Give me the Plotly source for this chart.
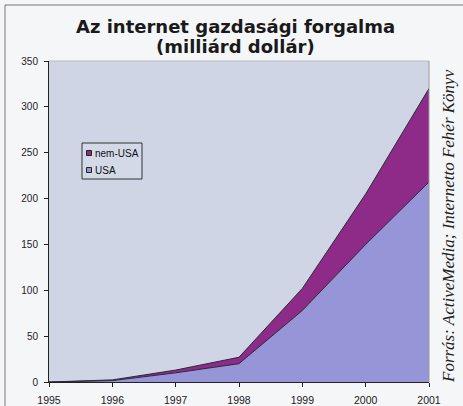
import plotly.graph_objects as go

years = [1995, 1996, 1997, 1998, 1999, 2000, 2001]
usa = [0, 1.5, 10, 20, 78, 150, 218]
nem_usa = [0, 0.8, 3, 7, 24, 55, 102]
y_ticks = [0, 50, 100, 150, 200, 250, 300, 350]
series_names = ["USA", "nem-USA"]

title_line1 = "Az internet gazdasági forgalma"
title_line2 = "(milliárd dollár)"
source_text = "Forrás: ActiveMedia; Internetto Fehér Könyv"

usa_color = "#9595d8"
nem_color = "#8e2a88"

fig = go.Figure()
fig.add_trace(go.Scatter(
    x=years, y=usa, name=series_names[0], stackgroup="one", mode="lines",
    line=dict(color="#2a2a3a", width=1), fillcolor=usa_color,
))
fig.add_trace(go.Scatter(
    x=years, y=nem_usa, name=series_names[1], stackgroup="one", mode="lines",
    line=dict(color="#2a2a3a", width=1), fillcolor=nem_color,
))

L, R, T, B = 49, 34, 61, 24
W, H = 463, 406
pw, ph = W - L - R, H - T - B

def px(x):
    return (x - L) / pw

def py(y):
    return (H - B - y) / ph

shapes = [
    dict(type="line", xref="paper", yref="paper",
         x0=px(5), x1=px(463), y0=py(5), y1=py(5),
         line=dict(color="#777", width=1)),
    dict(type="line", xref="paper", yref="paper",
         x0=px(5), x1=px(5), y0=py(5), y1=py(406),
         line=dict(color="#777", width=1)),
    dict(type="line", xref="paper", yref="paper",
         x0=1, x1=1, y0=0, y1=1,
         line=dict(color="#999", width=1)),
    dict(type="line", xref="paper", yref="paper",
         x0=0, x1=1, y0=1, y1=1,
         line=dict(color="#bbb", width=1)),
    # legend box
    dict(type="rect", xref="paper", yref="paper",
         x0=px(82), x1=px(142), y0=py(143), y1=py(179),
         fillcolor="#d3d9e7", line=dict(color="#333", width=1)),
    # legend swatches
    dict(type="rect", xref="paper", yref="paper",
         x0=px(86.5), x1=px(91.5), y0=py(150.5), y1=py(155.5),
         fillcolor=nem_color, line=dict(color="#222", width=1)),
    dict(type="rect", xref="paper", yref="paper",
         x0=px(86.5), x1=px(91.5), y0=py(167.5), y1=py(172.5),
         fillcolor=usa_color, line=dict(color="#222", width=1)),
]

title_font = dict(size=18, color="#1a1a1a", family="DejaVu Sans, Arial Black, sans-serif")

annotations = [
    dict(text="<b>" + title_line1 + "</b>", xref="paper", yref="paper",
         x=px(235), y=py(26), xanchor="center", yanchor="middle",
         showarrow=False, font=title_font),
    dict(text="<b>" + title_line2 + "</b>", xref="paper", yref="paper",
         x=px(235), y=py(46.5), xanchor="center", yanchor="middle",
         showarrow=False, font=title_font),
    dict(text="<i>" + source_text + "</i>", xref="paper", yref="paper",
         x=px(449), y=py(226), xanchor="center", yanchor="middle",
         textangle=-90, showarrow=False,
         font=dict(size=17, color="#222",
                   family="Liberation Serif, Times New Roman, serif")),
    dict(text=series_names[1], xref="paper", yref="paper",
         x=px(93), y=py(153), xanchor="left", yanchor="middle",
         showarrow=False, font=dict(size=10, color="#111")),
    dict(text=series_names[0], xref="paper", yref="paper",
         x=px(93), y=py(170), xanchor="left", yanchor="middle",
         showarrow=False, font=dict(size=10, color="#111")),
]

fig.update_layout(
    width=W, height=H,
    margin=dict(l=L, r=R, t=T, b=B, pad=0),
    paper_bgcolor="#f5f6f8",
    plot_bgcolor="#cfd5e4",
    font=dict(family="Liberation Sans, Arial, sans-serif", size=10, color="#222"),
    showlegend=False,
    xaxis=dict(
        range=[1995, 2001], tickmode="array", tickvals=years,
        ticktext=[str(y) for y in years],
        showgrid=False, zeroline=False, automargin=False,
        showline=True, linecolor="#222", linewidth=1,
        ticks="outside", ticklen=4, tickcolor="#222",
        tickfont=dict(size=10.5), ticklabelstandoff=4,
    ),
    yaxis=dict(
        range=[0, 350], tickmode="array", tickvals=y_ticks,
        showgrid=False, zeroline=False, automargin=False,
        showline=True, linecolor="#222", linewidth=1,
        ticks="outside", ticklen=4, tickcolor="#222",
        tickfont=dict(size=10), ticklabelstandoff=4,
    ),
    annotations=annotations,
    shapes=shapes,
)

fig.write_html("out.html",
               config={"displayModeBar": False},
               post_script="document.body.style.margin='0';document.body.style.overflow='hidden';")
